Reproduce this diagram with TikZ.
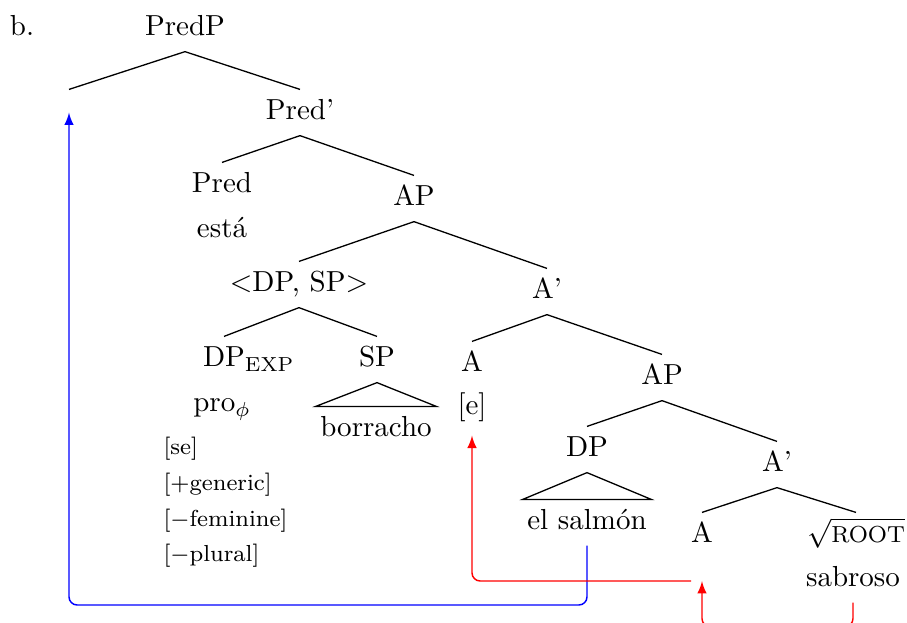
\documentclass[tikz,border=0pt]{standalone}
\tikzset{
  cat/.style={text height=6.9pt,text depth=1.75pt,inner xsep=1.4pt,inner ysep=3.45pt,anchor=base},
  feat/.style={font=\footnotesize,anchor=base west,inner sep=0pt},
  branch/.style={line width=0.45pt},
  mv/.style={line width=0.5pt,-latex,rounded corners=2.8pt}
}
\begin{document}
\begin{tikzpicture}[x=0.345pt,y=-0.345pt]
\clip (0,0) rectangle (907,623);
\node[cat] (blab) at (22,36) {b.};
\node[cat] (predp) at (185,36) {PredP};
\node[cat] (gap) at (69,120) {};
\node[cat] (predbar) at (300,120) {Pred'};
\node[cat] (pred) at (222,193) {Pred};
\node[cat] (esta) at (222,238) {está};
\node[cat] (ap1) at (414,206) {AP};
\node[cat] (dpsp) at (299,292) {<DP, SP>};
\node[cat] (abar1) at (547,299) {A'};
\node[cat] (dpexp) at (224,367) {DP\rlap{$_{\mathrm{EXP}}$}};
\node[cat] (sp) at (377,367) {SP};
\node[cat] (pro) at (222,412) {pro$_\phi$};
\node[cat] (borracho) at (376,437) {borracho};
\node[feat] (fse) at (163,455) {[se]};
\node[feat] (fgen) at (163,491) {[+generic]};
\node[feat] (ffem) at (163,527) {[$-$feminine]};
\node[feat] (fpl) at (163,562) {[$-$plural]};
\node[cat] (a1) at (472,372) {A};
\node[cat] (e) at (472,415) {[e]};
\node[cat] (ap2) at (662,385) {AP};
\node[cat] (dp) at (587,457) {DP};
\node[cat] (salmon) at (587,530) {el salmón};
\node[cat] (abar2) at (777,472) {A'};
\node[cat] (a2) at (702,543) {A};
\node[cat] (root) at (856,543) {$\sqrt{\hbox{\footnotesize ROOT}}$};
\node[cat] (sabroso) at (853,587) {sabroso};

\draw[branch] (predp.south) -- (gap.north);
\draw[branch] (predp.south) -- (predbar.north);
\draw[branch] (predbar.south) -- (pred.north);
\draw[branch] (predbar.south) -- (ap1.north);
\draw[branch] (ap1.south) -- (dpsp.north);
\draw[branch] (ap1.south) -- (abar1.north);
\draw[branch] (dpsp.south) -- (dpexp.north);
\draw[branch] (dpsp.south) -- (sp.north);
\draw[branch] (sp.south) -- (borracho.north east) -- (borracho.north west) -- cycle;
\draw[branch] (abar1.south) -- (a1.north);
\draw[branch] (abar1.south) -- (ap2.north);
\draw[branch] (ap2.south) -- (dp.north);
\draw[branch] (ap2.south) -- (abar2.north);
\draw[branch] (dp.south) -- (salmon.north east) -- (salmon.north west) -- cycle;
\draw[branch] (abar2.south) -- (a2.north);
\draw[branch] (abar2.south) -- (root.north);

\coordinate (redtail) at (691,581);
\coordinate (bluebend) at (69,605);
\draw[mv,blue] (salmon.south) |- (bluebend) -- (gap.center);
\draw[mv,red,shorten >=1.7pt] (redtail) -| (e.south);
\draw[mv,red] (sabroso.south) -- ++(0,24) -| (a2.south |- redtail);
\end{tikzpicture}
\end{document}
